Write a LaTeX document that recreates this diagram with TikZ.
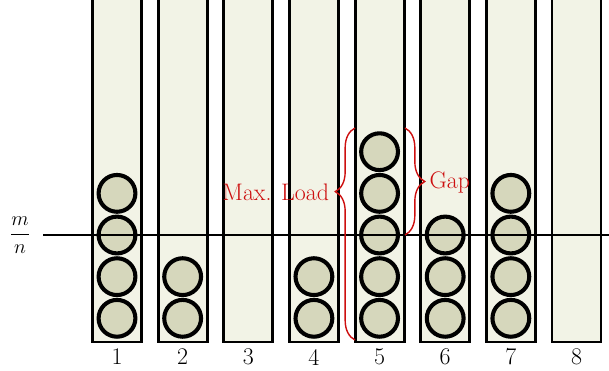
\documentclass[tikz,border=0pt]{standalone}
\usepackage{amsmath}
\usetikzlibrary{decorations.pathreplacing,positioning}
\definecolor{binfill}{RGB}{242,243,230}
\definecolor{ballfill}{RGB}{214,215,188}
\definecolor{markred}{RGB}{205,15,15}
\tikzset{my bin/.style={
  draw=black,
  line width=2.1pt
  }
}
\tikzset{my ball/.style={
  circle,
  draw=black,
  fill=ballfill,
  line width=2.9pt,
  inner sep=0pt,
  minimum size=0.92cm
  }
}
\tikzset{my brace/.style={
  markred,
  line width=1pt,
  decorate,
  decoration={brace,amplitude=14pt}
  }
}

\begin{document}
\begin{tikzpicture}[x=0.025cm,y=-0.025cm,font=\fontsize{17}{20}\selectfont]
    \useasboundingbox (0,0) rectangle (609,370);

    \foreach \k [count=\n] in {4,2,0,2,5,3,4,0} {
        \pgfmathsetmacro\xc{117+(\n-1)*65.64}
        \fill[binfill] (\xc-24.5,-5) rectangle (\xc+24.5,342);
        \draw[my bin] (\xc-24.5,-5) -- (\xc-24.5,342) -- (\xc+24.5,342) -- (\xc+24.5,-5);
        \node (l\n) at (\xc,357) {\n};
        \ifnum\k>0
            \foreach \j in {1,...,\k}
                \node[my ball] (b\n-\j) at (\xc,{318.3-(\j-1)*41.65}) {};
        \fi
    }

    \node[font=\fontsize{14}{17}\selectfont] (frac) at (20,235) {$\displaystyle\frac{m}{n}$};
    \coordinate (avg west) at (43,235);
    \coordinate (avg east) at (612,235);
    \draw[line width=2.1pt] (avg west) -- (avg east);

    \coordinate (load bot) at (355,340);
    \coordinate (load top) at (355,128);
    \draw[my brace,decoration={aspect=0.7}] (load bot) -- (load top);
    \node[markred,anchor=east,inner sep=4pt] (load) at (335,192) {Max. Load};

    \coordinate (gap top) at (405,128);
    \coordinate (gap bot) at (405,235);
    \draw[my brace] (gap top) -- (gap bot);
    \node[markred,anchor=west,inner sep=3pt] (gap) at (425,182) {Gap};

\end{tikzpicture}
\end{document}
